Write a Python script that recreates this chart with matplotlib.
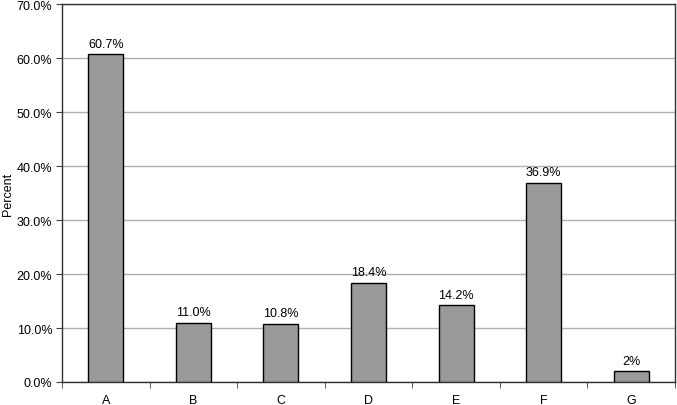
import matplotlib
matplotlib.use("Agg")
import matplotlib.pyplot as plt
from matplotlib.ticker import FixedLocator

categories = ["A", "B", "C", "D", "E", "F", "G"]
values = [60.7, 11.0, 10.8, 18.4, 14.2, 36.9, 2.0]
labels = ["60.7%", "11.0%", "10.8%", "18.4%", "14.2%", "36.9%", "2%"]
yticks = [0, 10, 20, 30, 40, 50, 60, 70]

plt.rcParams['font.family'] = ['Liberation Sans', 'DejaVu Sans']
fig = plt.figure(figsize=(6.77, 4.06), dpi=100)
ax = fig.add_axes([62/677, 1 - 383/406, (675-62)/677, (383-5)/406])

x = list(range(len(categories)))
ax.bar(x, values, width=0.4, color="#9a9a9a", edgecolor="black", linewidth=1.0, zorder=3)
for xi, v, lab in zip(x, values, labels):
    ax.text(xi, v + 0.8, lab, ha="center", va="bottom", fontsize=9)

ax.set_xlim(-0.5, len(categories) - 0.5)
ax.set_ylim(0, 70)
ax.set_yticks(yticks)
ax.set_yticklabels([f"{t:.1f}%" for t in yticks], fontsize=9)
ax.yaxis.grid(True, color="#b0b0b0", linewidth=1.0, zorder=0)
ax.set_xticks(x)
ax.set_xticklabels(categories, fontsize=9)
ax.tick_params(axis="x", length=0, pad=9)
ax.xaxis.set_minor_locator(FixedLocator([i + 0.5 for i in range(-1, len(categories))]))
ax.tick_params(axis="x", which="minor", length=4, color="#404040")
ax.tick_params(axis="y", length=4, color="#404040", pad=3)
ax.set_ylabel("Percent", fontsize=9, labelpad=2)
for s in ax.spines.values():
    s.set_color("#303030")
    s.set_linewidth(1.0)

fig.savefig("out.png", dpi=100)
